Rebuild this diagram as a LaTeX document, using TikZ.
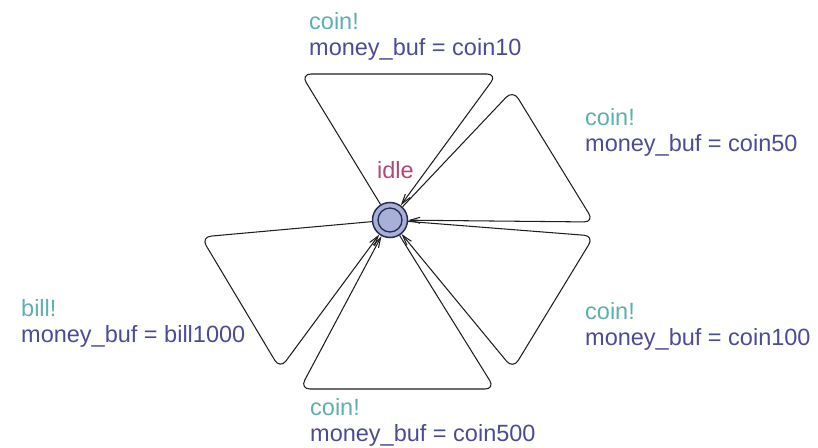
\documentclass[tikz,border=0pt]{standalone}
\usepackage{fontspec}
\setmainfont{Liberation Sans}
\usetikzlibrary{arrows.meta}
\definecolor{synccol}{RGB}{92,176,176}
\definecolor{updcol}{RGB}{76,76,150}
\definecolor{namecol}{RGB}{176,72,120}
\definecolor{locfill}{RGB}{168,176,216}
\definecolor{locline}{RGB}{40,44,80}
\definecolor{edgecol}{RGB}{30,30,30}
\tikzset{
  loc/.style={circle, draw=locline, fill=locfill, line width=1.5pt, minimum size=35pt, inner sep=0pt},
  locinner/.style={circle, draw=locline, line width=1.3pt, minimum size=24pt, inner sep=0pt},
  loop/.style={draw=edgecol, line width=1.05pt, rounded corners=10pt, -{Straight Barb[length=10pt,width=6pt]}},
  lbl/.style={anchor=base west, inner sep=0pt, font=\fontsize{23.5}{26}\selectfont},
  sync/.style={lbl, text=synccol},
  upd/.style={lbl, text=updcol},
  lname/.style={lbl, text=namecol}
}
\begin{document}
\begin{tikzpicture}[x=1pt,y=-1pt]
\useasboundingbox (0,0) rectangle (818,447);
\node[loc] (idle) at (390,220) {};
\node[locinner] (idlein) at (idle.center) {};
\node[lname] (idlename) at (377,178) {idle};

% corners
\coordinate (a1) at (301,74);
\coordinate (a2) at (497,74);
\coordinate (b1) at (513,90);
\coordinate (b2) at (594,222);
\coordinate (c1) at (594,236);
\coordinate (c2) at (513,369);
\coordinate (d1) at (495,389);
\coordinate (d2) at (300,389);
\coordinate (e1) at (201,237);
\coordinate (e2) at (280,369);

\draw[loop] (idle) -- (a1) -- (a2) -- (idle);
\draw[loop] (idle) -- (b1) -- (b2) -- (idle);
\draw[loop] (idle) -- (c1) -- (c2) -- (idle);
\draw[loop] (idle) -- (d1) -- (d2) -- (idle);
\draw[loop] (idle) -- (e1) -- (e2) -- (idle);

% labels
\node[sync] (s10) at (309,29) {coin!};
\node[upd] (u10) at (309,55) {money\_buf = coin10};
\node[sync] (s50) at (585,125) {coin!};
\node[upd] (u50) at (585,151) {money\_buf = coin50};
\node[sync] (s100) at (585,319) {coin!};
\node[upd] (u100) at (585,345) {money\_buf = coin100};
\node[sync] (s500) at (310,415) {coin!};
\node[upd] (u500) at (310,441) {money\_buf = coin500};
\node[sync] (sb) at (21,316) {bill!};
\node[upd] (ub) at (21,342) {money\_buf = bill1000};
\end{tikzpicture}
\end{document}
